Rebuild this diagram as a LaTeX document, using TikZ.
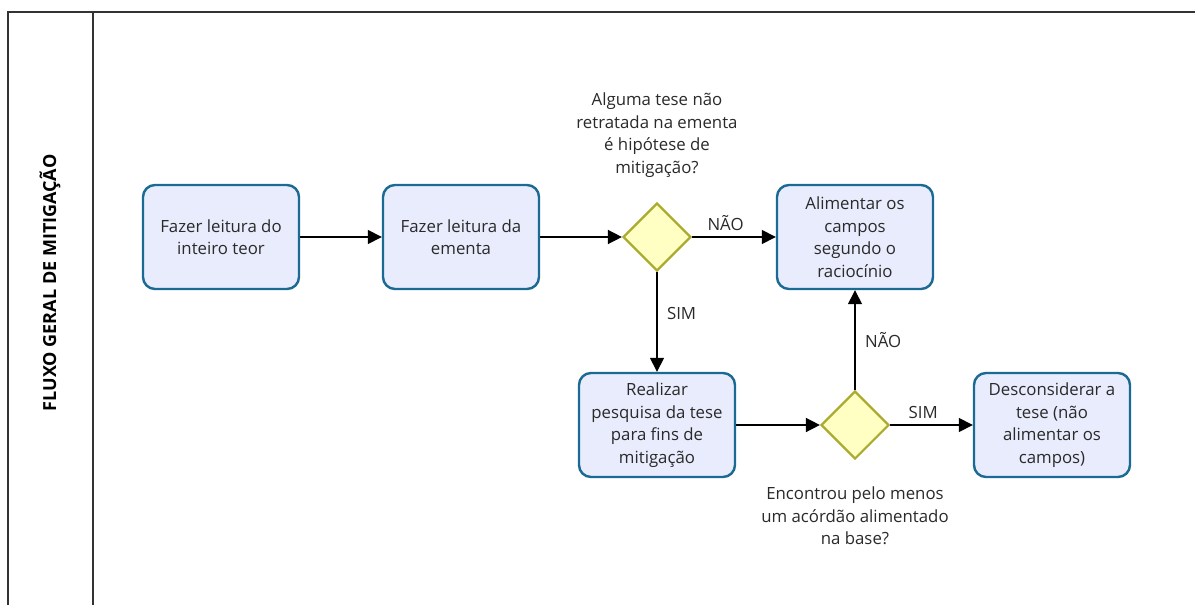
\documentclass[tikz,border=0pt]{standalone}
\usepackage{fontspec}
\setmainfont{Open Sans}
\usetikzlibrary{arrows.meta,shapes.geometric}
\definecolor{boxfill}{HTML}{E8ECFC}
\definecolor{boxline}{HTML}{1B6A94}
\definecolor{dfill}{HTML}{FFFFC4}
\definecolor{dline}{HTML}{ABAB30}
\definecolor{txt}{HTML}{2A2A2A}
\tikzset{
  task/.style={draw=boxline, line width=2.4pt, fill=boxfill, rounded corners=12pt,
    minimum width=156pt, minimum height=104pt, align=center, text=txt,
    font=\fontsize{16.8}{22.5}\selectfont},
  gate/.style={draw=dline, line width=2.2pt, fill=dfill, diamond, aspect=1,
    minimum width=68pt, minimum height=68pt, inner sep=0pt},
  lbl/.style={text=txt, align=center, font=\fontsize{16.8}{22.5}\selectfont},
  flow/.style={line width=1.5pt, -{Triangle[length=14pt,width=14pt]}},
  frame/.style={line width=1.3pt, draw=black!80}
}
\begin{document}
\begin{tikzpicture}[x=1pt,y=-1pt]
\useasboundingbox (0,0) rectangle (1195,605);
\fill[white] (0,0) rectangle (1195,605);
% frame
\coordinate (tl) at (8,12);
\coordinate (tr) at (1195,12);
\coordinate (bl) at (8,605);
\coordinate (dt) at (93,12);
\coordinate (db) at (93,605);
\draw[frame] (bl) -- (tl) -- (tr);
\draw[frame] (dt) -- (db);
\node[rotate=90, font=\bfseries\fontsize{18}{22}\selectfont] (title) at (50,283) {FLUXO GERAL DE MITIGAÇÃO};
% nodes
\node[task] (b1) at (221,237) {Fazer leitura do\\inteiro teor};
\node[task] (b2) at (461,237) {Fazer leitura da\\ementa};
\node[gate] (d1) at (657,237) {};
\node[lbl] (q1) at (657,135) {Alguma tese não\\retratada na ementa\\é hipótese de\\mitigação?};
\node[task] (b3) at (855,237) {Alimentar os\\campos\\segundo o\\raciocínio};
\node[task] (b4) at (657,425) {Realizar\\pesquisa da tese\\para fins de\\mitigação};
\node[gate] (d2) at (855,425) {};
\node[lbl] (q2) at (855,516) {Encontrou pelo menos\\um acórdão alimentado\\na base?};
\node[task] (b5) at (1052,425) {Desconsiderar a\\tese (não\\alimentar os\\campos)};
% connectors
\draw[flow] (b1) -- (b2);
\draw[flow] (b2) -- (d1);
\draw[flow] (d1) -- node[lbl, above=2pt, pos=0.4] (n1) {NÃO} (b3);
\draw[flow] (d1) -- node[lbl, right=6pt, pos=0.42] (s1) {SIM} (b4);
\draw[flow] (b4) -- (d2);
\draw[flow] (d2) -- node[lbl, right=6pt, pos=0.5] (n2) {NÃO} (b3);
\draw[flow] (d2) -- node[lbl, above=2pt, pos=0.4] (s2) {SIM} (b5);
\end{tikzpicture}
\end{document}
